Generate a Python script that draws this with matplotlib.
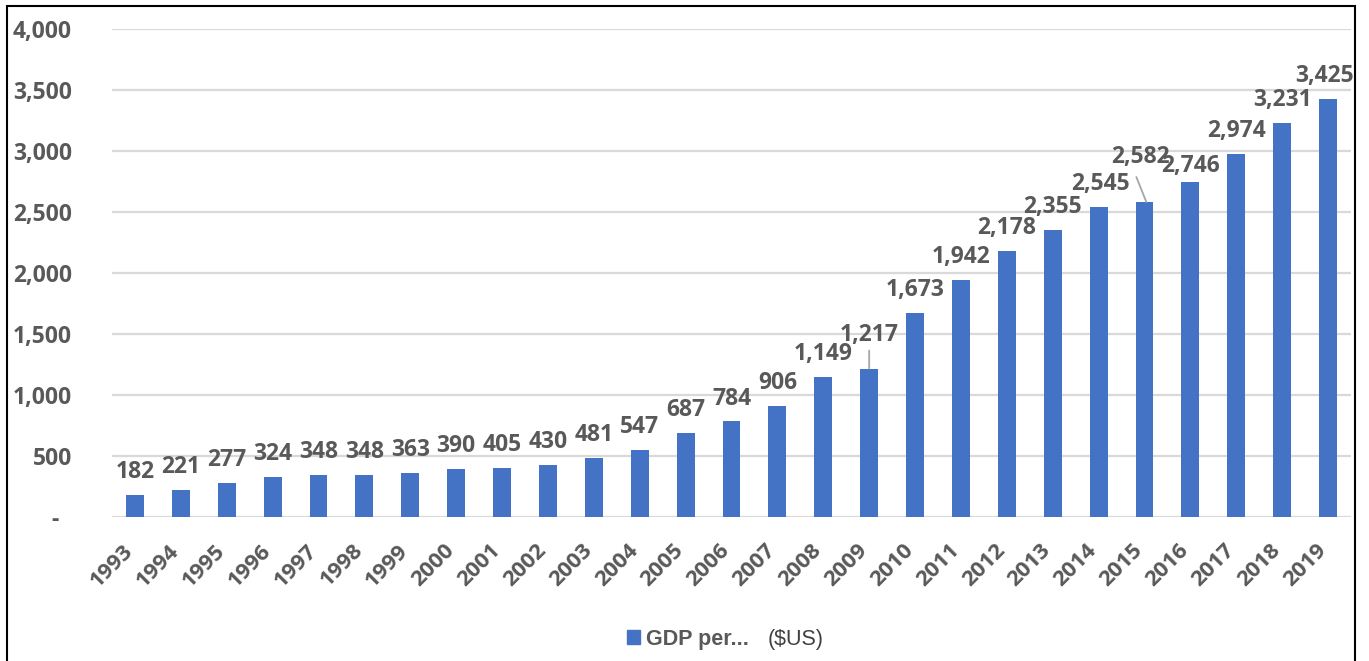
import numpy as np
import matplotlib
matplotlib.use("Agg")
from matplotlib import pyplot as plt
from matplotlib.patches import Patch, Rectangle
from matplotlib.ticker import FuncFormatter
from matplotlib.transforms import ScaledTranslation

years = [str(y) for y in range(1993, 2020)]
gdp = [182, 221, 277, 324, 348, 348, 363, 390, 405, 430, 481, 547, 687, 784,
       906, 1149, 1217, 1673, 1942, 2178, 2355, 2545, 2582, 2746, 2974, 3231, 3425]

bar_color = "#4472C4"
text_gray = "#595959"
grid_gray = "#d9d9d9"
lab_font = "Open Sans"

W, H = 1369, 661
fig = plt.figure(figsize=(W / 100, H / 100), dpi=100)
ax = fig.add_axes([112 / W, 1 - 517 / H, (1351 - 112) / W, (517 - 29) / H])

x = np.arange(len(years))
ax.bar(x, gdp, width=0.39, color=bar_color, zorder=3)

ax.set_xlim(-0.5, len(years) - 0.5)
ax.set_ylim(0, 4000)
ax.set_yticks(np.arange(0, 4001, 500))
ax.yaxis.set_major_formatter(FuncFormatter(lambda v, p: "-  " if v == 0 else f"{v:,.0f}"))
ax.grid(axis="y", color=grid_gray, lw=1.6, zorder=0)
for s in ax.spines.values():
    s.set_visible(False)
ax.tick_params(axis="both", length=0)
ax.tick_params(axis="y", pad=29)
ax.tick_params(axis="x", pad=22)
ax.set_xticks(x)
ax.set_xticklabels(years, rotation=45, ha="right", va="center", rotation_mode="anchor")
for t in ax.get_yticklabels():
    t.set_fontfamily(lab_font)
    t.set_fontweight("bold")
    t.set_fontsize(16.5)
    t.set_color(text_gray)
for t in ax.get_xticklabels():
    t.set_fontfamily(lab_font)
    t.set_fontweight("bold")
    t.set_fontsize(16)
    t.set_color(text_gray)
    t.set_transform(t.get_transform() + ScaledTranslation(-0.05, 0, fig.dpi_scale_trans))

# data labels, with a few moved like the original
shift = {13: (0, 16), 16: (0, 28), 21: (2, 17), 22: (-4, 39), 23: (0, 10), 26: (-4, 17)}
for i, v in enumerate(gdp):
    dx, dy = shift.get(i, (0, 17))
    ax.annotate(f"{v:,}", (i, v), xytext=(dx, dy), textcoords="offset pixels",
                ha="center", va="baseline", fontfamily=lab_font, fontweight="bold",
                fontsize=16.5, color=text_gray, zorder=5)

# leader lines
for i, (lx, ly) in {16: (0, 18), 22: (-10, 25)}.items():
    ax.annotate("", (i + (0.04 if i == 22 else 0), gdp[i]), xytext=(lx, ly),
                textcoords="offset pixels",
                arrowprops=dict(arrowstyle="-", color="#a6a6a6", lw=1.3,
                                shrinkA=0, shrinkB=0))

leg = fig.legend(handles=[Patch(color=bar_color, label="GDP per...")],
                 loc="center left", bbox_to_anchor=(627 / W, 1 - 639 / H),
                 frameon=False, borderpad=0, borderaxespad=0,
                 handlelength=0.6, handleheight=0.6, handletextpad=0.3,
                 prop=dict(family="Liberation Sans", weight="bold", size=15.5))
for t in leg.get_texts():
    t.set_color(text_gray)
fig.text(768 / W, 1 - 639 / H, "($US)", ha="left", va="center",
         fontfamily="Liberation Sans", fontsize=15.5, color="#404040")

fig.patches.append(Rectangle((7 / W, -0.05), (1355 - 7) / W, 1.05 - 6 / H,
                             transform=fig.transFigure, fill=False,
                             ec="black", lw=1.5))

fig.savefig("out.png", dpi=100)
